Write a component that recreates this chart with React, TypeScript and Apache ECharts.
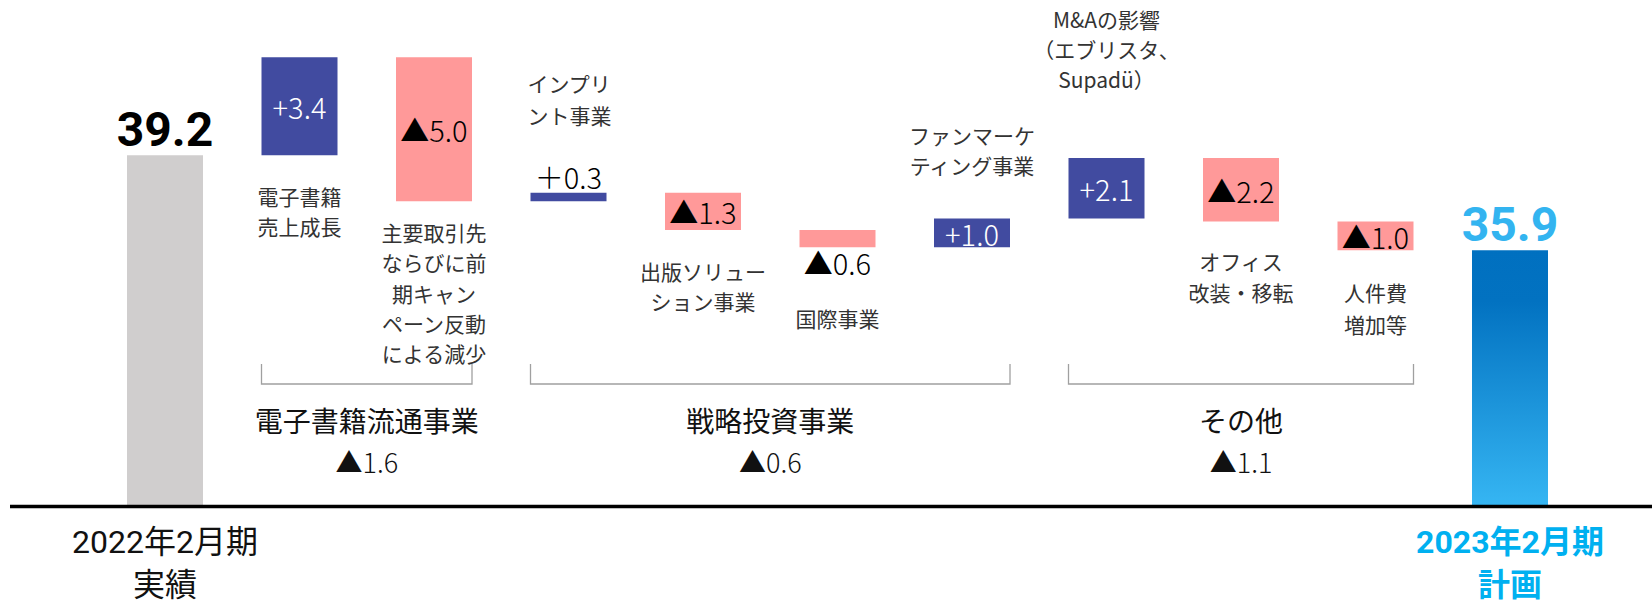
import React, { useEffect, useRef } from 'react';
import * as echarts from 'echarts';

// ---------- data ----------
const categories = [
  '2022年2月期\n実績',
  '電子書籍売上成長',
  '主要取引先ならびに前期キャンペーン反動による減少',
  'インプリント事業',
  '出版ソリューション事業',
  '国際事業',
  'ファンマーケティング事業',
  'M&Aの影響',
  'オフィス改装・移転',
  '人件費増加等',
  '2023年2月期\n計画',
];
const startValue = 39.2;
const endValue = 35.9;
const deltas = [3.4, -5.0, 0.3, -1.3, -0.6, 1.0, 2.1, -2.2, -1.0];

const annotationTexts = [
  '電子書籍\n売上成長',
  '主要取引先\nならびに前\n期キャン\nペーン反動\nによる減少',
  'インプリ\nント事業',
  '出版ソリュー\nション事業',
  '国際事業',
  'ファンマーケ\nティング事業',
  'M&Aの影響\n（エブリスタ、\nSupadü）',
  'オフィス\n改装・移転',
  '人件費\n増加等',
];

const groupNames = ['電子書籍流通事業', '戦略投資事業', 'その他'];
const groupTotals = [-1.6, -0.6, -1.1];
const groupRanges = [[1, 2], [3, 6], [7, 9]];

// ---------- layout / style ----------
const FONT_JP = '"Noto Sans CJK JP", "Noto Sans", sans-serif';
const FONT_NUM = 'Roboto, "Noto Sans CJK JP", sans-serif';
const BLUE = '#414ba0';
const PINK = '#ff9999';
const GRAY = '#d0cece';
const BAR_W = 76;
const labelPos = ['top', 'inside', 'inside', 'top', 'inside', 'bottom', 'inside', 'inside', 'inside', 'inside', 'top'];
// annotation layout: [category index, block centre y, line height, align]
const annotationLayout: [number, number, number, string][] = [
  [1, 211, 30, 'center'],
  [2, 292.5, 30.3, 'center'],
  [3, 99, 32, 'left'],
  [4, 286, 30, 'center'],
  [5, 318, 30, 'center'],
  [6, 150, 30, 'center'],
  [7, 49, 30, 'center'],
  [8, 276, 31, 'center'],
  [9, 308, 32, 'center'],
];

function fmtDelta(v: number, outside: boolean) {
  const s = Math.abs(v).toFixed(1);
  return v >= 0 ? (outside ? '＋' : '+') + s : '▲' + s;
}

export default function App() {
  const ref = useRef<HTMLDivElement>(null);
  useEffect(() => {
    const chart = echarts.init(ref.current!, null, { renderer: 'svg' });
    const n = categories.length;

    const base: number[] = [0];
    const heights: number[] = [startValue];
    let level = startValue;
    deltas.forEach((d) => {
      const next = level + d;
      base.push(Math.min(level, next));
      heights.push(Math.abs(d));
      level = next;
    });
    base.push(0);
    heights.push(endValue);

    const endGradient = new echarts.graphic.LinearGradient(0, 0, 0, 1, [
      { offset: 0, color: '#0070c0' },
      { offset: 0.2, color: '#0272c1' },
      { offset: 1, color: '#36b6f3' },
    ]);

    const deltaData = heights.map((h, i) => {
      const isStart = i === 0;
      const isEnd = i === n - 1;
      if (isStart || isEnd) {
        return {
          value: h,
          itemStyle: { color: isStart ? GRAY : endGradient },
          label: {
            show: true,
            position: 'top',
            distance: 2,
            formatter: (isStart ? startValue : endValue).toFixed(1),
            fontSize: 48,
            lineHeight: 48,
            fontWeight: 'bold',
            fontFamily: FONT_NUM,
            color: isStart ? '#000' : '#33b4f0',
          },
        };
      }
      const d = deltas[i - 1];
      const pos = labelPos[i];
      return {
        value: h,
        itemStyle: { color: d >= 0 ? BLUE : PINK },
        label: {
          show: true,
          position: pos,
          distance: pos === 'top' ? 2 : 0,
          formatter: fmtDelta(d, pos !== 'inside'),
          fontSize: 29,
          lineHeight: 29,
          fontWeight: 300,
          fontFamily: FONT_JP,
          color: pos === 'inside' && d >= 0 ? '#fff' : '#000',
        },
      };
    });

    chart.setOption({
      animation: false,
      grid: { left: 97.75, right: 74.75, top: 17, bottom: 95.5, containLabel: false, outerBoundsMode: 'none' },
      xAxis: {
        type: 'category',
        data: categories,
        axisLine: { show: false },
        axisTick: { show: false },
        splitLine: { show: false },
        axisLabel: {
          interval: 0,
          margin: 7,
          fontSize: 32,
          color: '#111',
          fontFamily: FONT_NUM,
          formatter: (v: string, i: number) => {
            if (i !== 0 && i !== n - 1) return '';
            const [l1, l2] = v.split('\n');
            return i === 0 ? `{a|${l1}}\n{b|${l2}}` : `{c|${l1}}\n{d|${l2}}`;
          },
          rich: {
            a: { color: '#111', fontSize: 32, lineHeight: 56, fontFamily: FONT_NUM },
            b: { color: '#111', fontSize: 32, lineHeight: 30, fontFamily: FONT_NUM },
            c: { color: '#00b0f0', fontWeight: 'bold', fontSize: 32, lineHeight: 56, fontFamily: FONT_NUM },
            d: { color: '#00b0f0', fontWeight: 'bold', fontSize: 32, lineHeight: 30, fontFamily: FONT_NUM },
          },
        },
      },
      yAxis: { type: 'value', min: 27, max: 44, show: false, splitLine: { show: false } },
      series: [
        {
          type: 'bar',
          stack: 'w',
          data: base,
          barWidth: BAR_W,
          itemStyle: { color: 'rgba(0,0,0,0)' },
          silent: true,
          label: { show: false },
        },
        {
          type: 'bar',
          stack: 'w',
          data: deltaData,
          barWidth: BAR_W,
        },
      ],
    });

    const cx = (i: number) => chart.convertToPixel({ xAxisIndex: 0 }, i) as number;
    const yBase = chart.convertToPixel({ yAxisIndex: 0 }, 27) as number;
    const elements: any[] = [];

    elements.push({
      type: 'line',
      shape: { x1: 10, y1: yBase, x2: 1652, y2: yBase },
      style: { stroke: '#000', lineWidth: 3.5 },
      z: 100,
    });

    groupRanges.forEach(([a, b], gi) => {
      const x0 = cx(a) - BAR_W / 2;
      const x1 = cx(b) + BAR_W / 2;
      elements.push({
        type: 'polyline',
        shape: { points: [[x0, 364], [x0, 384], [x1, 384], [x1, 364]] },
        style: { stroke: '#a0a0a0', lineWidth: 1.3, fill: null },
      });
      const mid = (x0 + x1) / 2;
      elements.push({
        type: 'text',
        x: mid,
        y: 420,
        style: {
          text: groupNames[gi],
          fontSize: 28,
          fontFamily: FONT_JP,
          fill: '#111',
          align: 'center',
          verticalAlign: 'middle',
        },
      });
      elements.push({
        type: 'text',
        x: mid,
        y: 461,
        style: {
          text: fmtDelta(groupTotals[gi], true),
          fontSize: 27,
          fontFamily: FONT_JP,
          fontWeight: 300,
          fill: '#111',
          align: 'center',
          verticalAlign: 'middle',
        },
      });
    });

    annotationLayout.forEach(([idx, y, lh, align], k) => {
      const x = align === 'left' ? cx(idx) - BAR_W / 2 - 3 : cx(idx);
      elements.push({
        type: 'text',
        x,
        y,
        style: {
          text: annotationTexts[k],
          fontSize: 21,
          lineHeight: lh,
          fontFamily: FONT_JP,
          fill: '#333',
          align,
          verticalAlign: 'middle',
        },
      });
    });

    chart.setOption({ graphic: elements });

    return () => chart.dispose();
  }, []);

  return (
    <div
      ref={ref}
      style={{ position: 'fixed', left: 0, top: 0, width: 1652, height: 602, background: '#fff' }}
    />
  );
}
